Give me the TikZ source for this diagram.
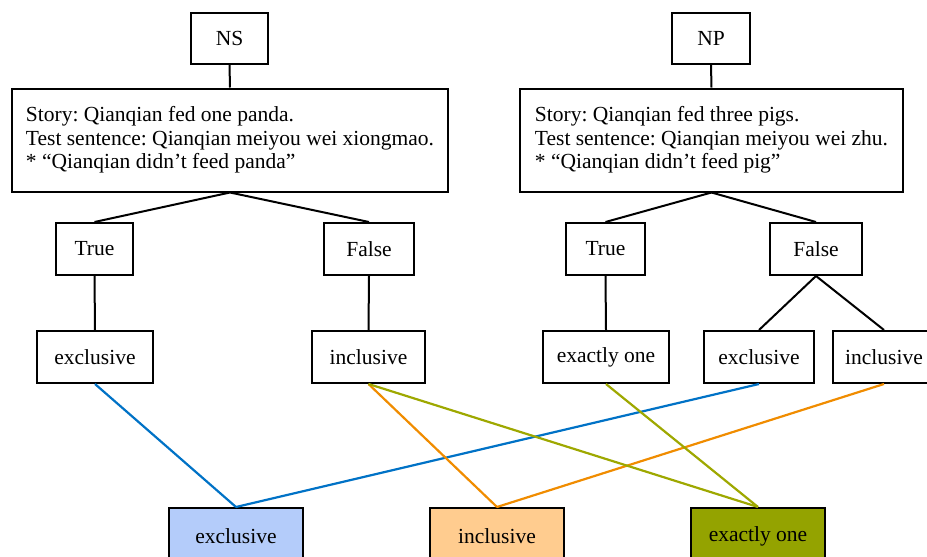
\documentclass[tikz,border=0pt]{standalone}
\usepackage{fontspec}
\setmainfont{Liberation Serif}
\frenchspacing
\definecolor{lblue}{RGB}{0,114,198}
\definecolor{lorange}{RGB}{240,140,0}
\definecolor{lolive}{RGB}{158,168,0}
\definecolor{fblue}{RGB}{180,204,250}
\definecolor{forange}{RGB}{255,204,143}
\definecolor{folive}{RGB}{148,163,0}
\begin{document}
\begin{tikzpicture}[x=1pt,y=-1pt,
  box/.style={draw, line width=2pt, inner sep=0pt, minimum height=52pt,
    font=\fontsize{21.5}{23.7}\selectfont},
  storybox/.style={box, minimum height=103pt, align=left},
  conn/.style={line width=2pt},
  cline/.style={line width=2.2pt}]
\useasboundingbox (0,0) rectangle (927,557);
\clip (0,0) rectangle (927,557);
% top
\node[box, minimum width=77pt, minimum height=51pt] (ns) at (229.5,38.5) {NS};
\node[box, minimum width=78pt, minimum height=51pt] (np) at (711,38.5) {NP};
\node[storybox, minimum width=436pt] (sl) at (230,140)
  {Story: Qianqian fed one panda.\\Test sentence: Qianqian meiyou wei xiongmao.\\{*} “Qianqian didn’t feed panda”};
\node[storybox, minimum width=383pt] (sr) at (711.5,140)
  {Story: Qianqian fed three pigs.\\Test sentence: Qianqian meiyou wei zhu.\\{*} “Qianqian didn’t feed pig”};
% second level
\node[box, minimum width=77pt] (lt) at (94.5,249) {True};
\node[box, minimum width=90pt] (lf) at (369,249) {False};
\node[box, minimum width=79pt] (rt) at (605.5,249) {True};
\node[box, minimum width=92pt] (rf) at (816,249) {False};
% third level
\node[box, minimum width=116pt] (lex) at (95,357) {exclusive};
\node[box, minimum width=113pt] (lin) at (368.5,357) {inclusive};
\node[box, minimum width=126pt] (rone) at (606,357) {exactly one};
\node[box, minimum width=110pt] (rex) at (759,357) {exclusive};
\node[box, minimum width=102pt] (rin) at (884,357) {inclusive};
% bottom
\node[box, minimum width=134pt, minimum height=64pt, fill=fblue] (bex) at (236,540) {};
\node[font=\fontsize{21.5}{23.7}\selectfont] (bext) at (236,536) {exclusive};
\node[box, minimum width=134pt, minimum height=64pt, fill=forange] (bin) at (497,540) {};
\node[font=\fontsize{21.5}{23.7}\selectfont] (bint) at (497,536) {inclusive};
\node[box, minimum width=134pt, minimum height=64pt, fill=folive] (bone) at (758,540) {};
\node[font=\fontsize{21.5}{23.7}\selectfont] (bonet) at (758,536) {exactly one};
% black connectors
\draw[conn] (ns.south) -- (sl.north);
\draw[conn] (np.south) -- (sr.north);
\draw[conn] (sl.south) -- (lt.north);
\draw[conn] (sl.south) -- (lf.north);
\draw[conn] (sr.south) -- (rt.north);
\draw[conn] (sr.south) -- (rf.north);
\draw[conn] (lt.south) -- (lex.north);
\draw[conn] (lf.south) -- (lin.north);
\draw[conn] (rt.south) -- (rone.north);
\draw[conn] (rf.south) -- (rex.north);
\draw[conn] (rf.south) -- (rin.north);
% coloured connectors
\draw[cline, lblue] (lex.south) -- (bex.north);
\draw[cline, lblue] (rex.south) -- (bex.north);
\draw[cline, lorange] (lin.south) -- (bin.north);
\draw[cline, lorange] (rin.south) -- (bin.north);
\draw[cline, lolive] (lin.south) -- (bone.north);
\draw[cline, lolive] (rone.south) -- (bone.north);
\end{tikzpicture}
\end{document}
